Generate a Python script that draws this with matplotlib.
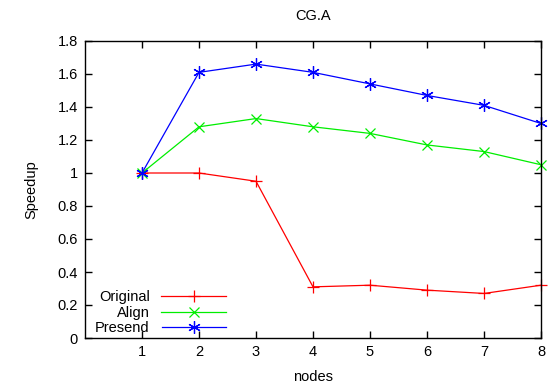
import matplotlib.pyplot as plt

plt.rcParams["font.family"] = ["Liberation Sans", "DejaVu Sans"]
plt.rcParams["font.size"] = 10.5

nodes = [1, 2, 3, 4, 5, 6, 7, 8]
original = [1.0, 1.0, 0.95, 0.31, 0.32, 0.29, 0.27, 0.32]
align = [1.0, 1.28, 1.33, 1.28, 1.24, 1.17, 1.13, 1.05]
presend = [1.0, 1.61, 1.66, 1.61, 1.54, 1.47, 1.41, 1.30]

fig = plt.figure(figsize=(5.49, 3.85), dpi=100)
ax = fig.add_axes([85 / 549, 1 - 338 / 385, (541 - 85) / 549, (338 - 41) / 385])

ax.plot(nodes, original, color="#ff0000", marker="+", markersize=9, lw=0.9,
        mew=0.9, label="Original", clip_on=False)
ax.plot(nodes, align, color="#00ee00", marker="x", markersize=7, lw=0.9,
        mew=0.9, label="Align", clip_on=False)
ax.plot(nodes, presend, color="#0000ff", marker=(6, 2, 0), markersize=9, lw=0.9,
        mew=0.9, label="Presend", clip_on=False)

ax.set_xlim(0, 8)
ax.set_ylim(0, 1.8)
ax.set_xticks(nodes)
ax.set_yticks([0, 0.2, 0.4, 0.6, 0.8, 1, 1.2, 1.4, 1.6, 1.8])
ax.set_yticklabels(["0", "0.2", "0.4", "0.6", "0.8", "1", "1.2", "1.4", "1.6", "1.8"])
ax.tick_params(direction="in", top=True, right=True, length=5, width=1, pad=5)
for s in ax.spines.values():
    s.set_linewidth(1)

ax.set_xlabel("nodes", labelpad=8)
ax.set_ylabel("Speedup", labelpad=14)
ax.set_title("CG.A", fontsize=10.5, pad=15)

leg = ax.legend(loc="lower left", bbox_to_anchor=(0.0, -0.025), frameon=False,
                markerfirst=False, handlelength=4.4, handletextpad=0.8,
                labelspacing=0.1, borderaxespad=0.3)
for t in leg.get_texts():
    t.set_ha("right")
leg._legend_box.align = "right"

fig.savefig("out.png", dpi=100)
